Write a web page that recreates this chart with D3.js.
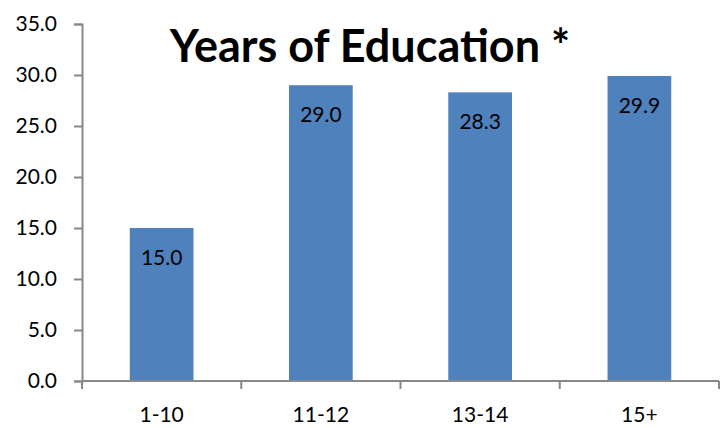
<!DOCTYPE html>
<html>
<head>
<meta charset="utf-8">
<script src="https://cdn.jsdelivr.net/npm/d3@7"></script>
<style>
  body { margin: 0; background: #fff; }
  text { font-family: Lato, "Open Sans", sans-serif; }
</style>
</head>
<body>
<svg id="chart" width="720" height="428"></svg>
<script>
var categories = ["1-10", "11-12", "13-14", "15+"];
var values = [15.0, 29.0, 28.3, 29.9];
var yTicks = [0, 5, 10, 15, 20, 25, 30, 35];
var title = "Years of Education *";

var svg = d3.select("#chart");
var mLeft = 82, mRight = 719, mTop = 24, mBottom = 381;

var x = d3.scaleBand().domain(categories).range([mLeft, mRight])
    .paddingInner(0.6).paddingOuter(0.3);
var y = d3.scaleLinear().domain([0, 35]).range([mBottom, mTop]);

// bars
svg.selectAll("rect.bar").data(values).enter().append("rect")
    .attr("class", "bar")
    .attr("x", (d, i) => x(categories[i]))
    .attr("width", x.bandwidth())
    .attr("y", d => y(d))
    .attr("height", d => y(0) - y(d))
    .attr("fill", "#4f81bd");

// value labels
svg.selectAll("text.val").data(values).enter().append("text")
    .attr("class", "val")
    .attr("x", (d, i) => x(categories[i]) + x.bandwidth() / 2)
    .attr("y", d => y(d) + 37)
    .attr("text-anchor", "middle")
    .attr("font-size", 21)
    .attr("fill", "#000")
    .text(d => d.toFixed(1));

// y axis
var yAxis = d3.axisLeft(y).tickValues(yTicks).tickFormat(d3.format(".1f"))
    .tickSize(8).tickPadding(17);
var gy = svg.append("g").attr("transform", "translate(" + mLeft + ",0)").call(yAxis);
gy.select(".domain").attr("stroke", "#888").attr("stroke-width", 2);
gy.selectAll(".tick line").attr("stroke", "#888").attr("stroke-width", 2);
gy.selectAll(".tick text").attr("font-size", 21).attr("fill", "#000")
    .style("font-family", "Lato, 'Open Sans', sans-serif");

// x axis line + ticks at band boundaries
svg.append("line").attr("x1", mLeft).attr("x2", mRight)
    .attr("y1", mBottom).attr("y2", mBottom)
    .attr("stroke", "#888").attr("stroke-width", 2);
var bounds = categories.map(c => x(c) - x.step() * x.paddingInner() / 2);
bounds[0] = mLeft;
bounds.push(mRight);
svg.selectAll("line.xt").data(bounds).enter().append("line")
    .attr("class", "xt")
    .attr("x1", d => d).attr("x2", d => d)
    .attr("y1", mBottom).attr("y2", mBottom + 8)
    .attr("stroke", "#888").attr("stroke-width", 2);

svg.selectAll("text.cat").data(categories).enter().append("text")
    .attr("class", "cat")
    .attr("x", d => x(d) + x.bandwidth() / 2)
    .attr("y", 422)
    .attr("text-anchor", "middle")
    .attr("font-size", 21)
    .attr("fill", "#000")
    .text(d => d);

// title
svg.append("text")
    .attr("x", 370).attr("y", 62)
    .attr("text-anchor", "middle")
    .attr("font-size", 45)
    .attr("font-weight", "bold")
    .attr("fill", "#000")
    .text(title);
</script>
</body>
</html>
